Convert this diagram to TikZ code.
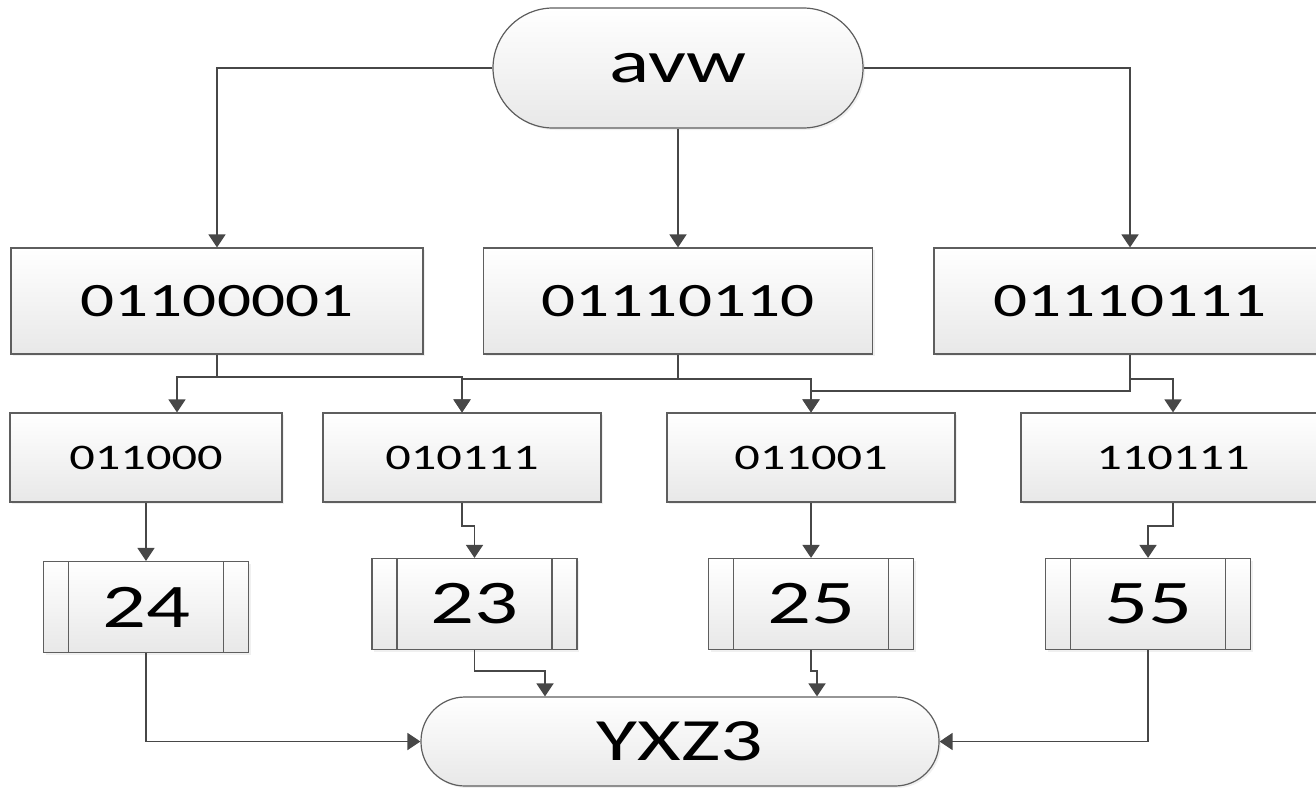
\documentclass[tikz,border=0pt]{standalone}
\usepackage{fontspec}
\setmainfont{Carlito}[FakeStretch=1.4]
\usepackage{tikz}
\usetikzlibrary{arrows.meta,shadows}

\definecolor{boxgray}{HTML}{5E5E5E}
\definecolor{linegray}{HTML}{474747}

\begin{document}
\begin{tikzpicture}[x=1pt,y=-1pt,>={Triangle[width=17pt,length=13pt]},
  box/.style={draw=boxgray,line width=1.2pt,top color=white,bottom color=black!9,
    inner sep=0pt,drop shadow={shadow xshift=2pt,shadow yshift=-2pt,opacity=0.12}},
  term/.style={box,rounded corners=#1},
  proc/.style={box,path picture={
    \draw[boxgray,line width=1.2pt] ([xshift=25pt]path picture bounding box.north west) -- ([xshift=25pt]path picture bounding box.south west);
    \draw[boxgray,line width=1.2pt] ([xshift=-25pt]path picture bounding box.north east) -- ([xshift=-25pt]path picture bounding box.south east);}},
  link/.style={->,draw=linegray,line width=1.8pt}]

\useasboundingbox (0,0) rectangle (1316,787);

% Start and end
\node[term=60pt,minimum width=370pt,minimum height=120pt,font=\fontsize{60}{66}\selectfont] (a) at (678,68) {avw};
\node[term=44pt,minimum width=518pt,minimum height=89pt,font=\fontsize{60}{66}\selectfont] (e) at (680,741.5) {YXZ3};

% Byte codes
\begin{scope}[every node/.style={box,minimum height=106pt,font=\fontsize{48}{54}\selectfont}]
\node[minimum width=412pt] (b1) at (217,301) {01100001};
\node[minimum width=389pt] (b2) at (678,301) {01110110};
\node[minimum width=392pt] (b3) at (1130,301) {01110111};
\end{scope}

% Six-bit groups
\begin{scope}[every node/.style={box,minimum height=89pt,font=\fontsize{36}{40}\selectfont}]
\node[minimum width=272pt] (c1) at (146,457.5) {011000};
\node[minimum width=278pt] (c2) at (462,457.5) {010111};
\node[minimum width=288pt] (c3) at (811,457.5) {011001};
\node[minimum width=304pt] (c4) at (1173,457.5) {110111};
\end{scope}

% Index values
\begin{scope}[every node/.style={proc,minimum width=205pt,minimum height=91pt,font=\fontsize{62}{68}\selectfont}]
\node (d1) at (146,607) {24};
\node (d2) at (474.5,604) {23};
\node (d3) at (811,604) {25};
\node (d4) at (1148,604) {55};
\end{scope}

% From the text to the bytes
\draw[link] (a.west) -| (b1.north);
\draw[link] (a.south) -- (b2.north);
\draw[link] (a.east) -| (b3.north);

% From the bytes to the groups
\draw[link] (b1.south) -- ++(0,22) -| ([xshift=31pt]c1.north);
\draw[link] (b1.south) -- ++(0,22) -| (c2.north);
\draw[link] (b2.south) -- ++(0,24) -| (c2.north);
\draw[link] (b2.south) -- ++(0,24) -| (c3.north);
\draw[link] (b3.south) -- ++(0,36) -| (c3.north);
\draw[link] (b3.south) -- ++(0,24) -| (c4.north);

% From the groups to the values
\draw[link] (c1.south) -- (d1.north);
\draw[link] (c2.south) -- ++(0,23) -| (d2.north);
\draw[link] (c3.south) -- (d3.north);
\draw[link] (c4.south) -- ++(0,23) -| (d4.north);

% From the values to the result
\draw[link] (d1.south) |- (e.west);
\draw[link] (d2.south) -- ++(0,21) -| ([xshift=-135pt]e.north);
\draw[link] (d3.south) -- ++(0,21) -| ([xshift=137pt]e.north);
\draw[link] (d4.south) |- (e.east);

\end{tikzpicture}
\end{document}
